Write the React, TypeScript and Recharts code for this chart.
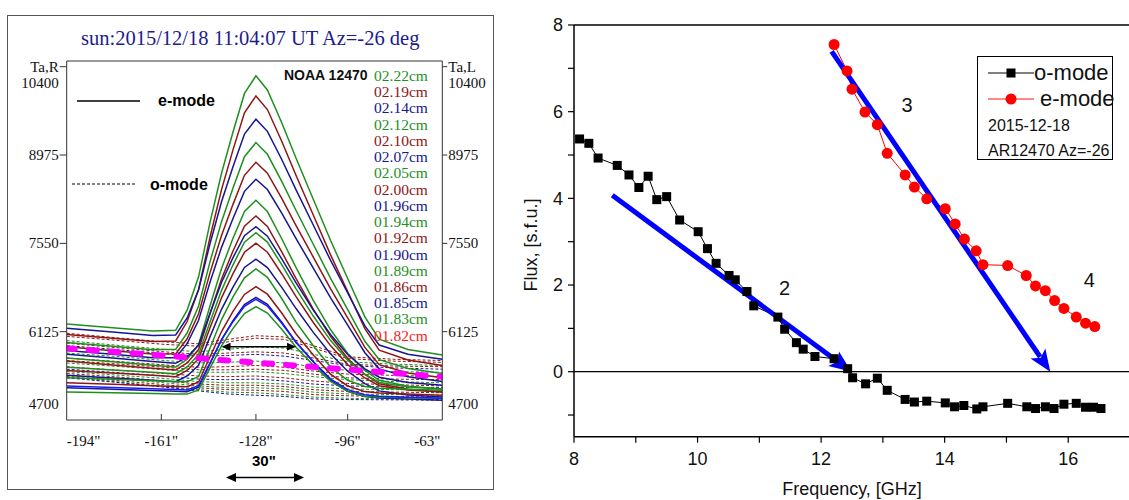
import React from "react";
import { LineChart, Line, XAxis, YAxis, ReferenceLine, ReferenceDot } from "recharts";

// ---------- left panel: scan profiles ----------
const scanX = [-194, -178, -164, -156, -152, -148, -144, -140, -136, -132, -128, -124, -119, -114, -108, -102, -96, -90, -85, -75, -63];

const e222 = [6250, 6189, 6135, 6148, 6473, 7010, 7888, 8681, 9347, 9969, 10252, 10024, 9495, 8923, 8262, 7601, 6982, 6363, 6004, 5839, 5750];
const e219 = [6080, 6019, 5965, 5976, 6289, 6806, 7652, 8417, 9058, 9657, 9929, 9709, 9198, 8646, 8008, 7369, 6772, 6175, 5828, 5667, 5580];
const e214 = [6180, 6119, 6065, 6071, 6346, 6802, 7548, 8222, 8787, 9314, 9553, 9357, 8903, 8413, 7846, 7279, 6749, 6218, 5909, 5762, 5680];
const e212 = [5950, 5889, 5835, 5840, 6103, 6539, 7255, 7900, 8442, 8948, 9176, 8987, 8551, 8080, 7535, 6990, 6480, 5970, 5673, 5531, 5450];
const e210 = [5880, 5819, 5765, 5767, 6011, 6415, 7078, 7677, 8179, 8648, 8859, 8682, 8276, 7837, 7329, 6821, 6346, 5871, 5593, 5458, 5380];
const e207 = [5820, 5759, 5705, 5705, 5932, 6308, 6926, 7485, 7952, 8389, 8585, 8419, 8038, 7627, 7151, 6676, 6230, 5785, 5525, 5396, 5320];
const e205 = [5700, 5639, 5585, 5555, 5680, 5916, 6544, 7145, 7633, 8065, 8246, 8063, 7624, 7158, 6631, 6160, 5774, 5499, 5340, 5246, 5200];
const e200 = [5650, 5589, 5535, 5505, 5620, 5837, 6419, 6975, 7427, 7826, 7993, 7822, 7414, 6980, 6490, 6052, 5691, 5435, 5286, 5196, 5150];
const e196 = [5760, 5699, 5645, 5615, 5716, 5908, 6424, 6918, 7319, 7673, 7820, 7666, 7300, 6912, 6472, 6079, 5756, 5525, 5390, 5306, 5260];
const e194 = [5550, 5507, 5470, 5448, 5555, 5756, 6285, 6792, 7204, 7569, 7723, 7571, 7206, 6816, 6377, 5985, 5664, 5436, 5306, 5232, 5200];
const e192 = [5500, 5457, 5420, 5398, 5499, 5689, 6190, 6671, 7061, 7406, 7552, 7407, 7060, 6690, 6273, 5900, 5594, 5378, 5254, 5182, 5150];
const e190 = [5420, 5377, 5340, 5318, 5411, 5584, 6045, 6486, 6844, 7161, 7294, 7160, 6840, 6498, 6113, 5769, 5486, 5286, 5170, 5102, 5070];
const e189 = [5380, 5356, 5334, 5322, 5316, 5403, 5861, 6320, 6686, 6994, 7137, 7001, 6660, 6280, 5899, 5556, 5341, 5240, 5214, 5198, 5180];
const e186 = [5300, 5276, 5254, 5242, 5236, 5313, 5720, 6127, 6452, 6726, 6852, 6730, 6426, 6087, 5748, 5441, 5249, 5158, 5134, 5118, 5100];
const e185 = [5220, 5196, 5174, 5162, 5156, 5228, 5612, 5997, 6303, 6561, 6680, 6565, 6277, 5957, 5635, 5345, 5164, 5077, 5054, 5038, 5020];
const e183 = [5150, 5138, 5127, 5121, 5118, 5186, 5541, 5895, 6178, 6417, 6529, 6425, 6165, 5875, 5584, 5323, 5161, 5084, 5067, 5059, 5050];
const e182 = [5250, 5226, 5204, 5192, 5186, 5255, 5624, 5992, 6286, 6534, 6648, 6537, 6260, 5952, 5644, 5365, 5190, 5106, 5084, 5068, 5050];

const oX = [-194, -175, -160, -148, -138, -128, -118, -108, -96, -80, -63];
const o00 = [6100, 6020, 5960, 5930, 6000, 6060, 6040, 5900, 5720, 5680, 5660];
const o01 = [6050, 5980, 5920, 5890, 5960, 6020, 6000, 5860, 5690, 5650, 5630];
const o02 = [5980, 5900, 5840, 5800, 5840, 5880, 5860, 5760, 5640, 5600, 5580];
const o03 = [5940, 5860, 5800, 5760, 5780, 5800, 5780, 5700, 5600, 5570, 5560];
const o04 = [5900, 5830, 5770, 5730, 5740, 5760, 5730, 5660, 5580, 5540, 5520];
const o05 = [5780, 5720, 5660, 5620, 5630, 5650, 5620, 5560, 5500, 5480, 5470];
const o06 = [5700, 5640, 5590, 5550, 5560, 5580, 5550, 5490, 5440, 5420, 5400];
const o07 = [5660, 5600, 5550, 5510, 5510, 5520, 5500, 5440, 5380, 5360, 5350];
const o08 = [5620, 5560, 5510, 5470, 5470, 5480, 5450, 5400, 5350, 5320, 5300];
const o09 = [5560, 5500, 5450, 5410, 5400, 5410, 5380, 5330, 5290, 5270, 5250];
const o10 = [5520, 5460, 5410, 5360, 5350, 5360, 5330, 5280, 5250, 5230, 5220];
const o11 = [5480, 5420, 5370, 5320, 5300, 5300, 5280, 5230, 5200, 5190, 5180];
const o12 = [5450, 5390, 5330, 5280, 5260, 5260, 5240, 5190, 5160, 5150, 5140];
const o13 = [5420, 5360, 5300, 5250, 5220, 5220, 5200, 5150, 5120, 5110, 5100];
const o14 = [5400, 5330, 5270, 5220, 5190, 5180, 5160, 5110, 5090, 5080, 5070];
const o15 = [5390, 5310, 5240, 5190, 5150, 5140, 5110, 5070, 5050, 5040, 5030];
const o16 = [5380, 5300, 5230, 5170, 5120, 5100, 5080, 5040, 5030, 5025, 5020];

const magentaX = [-194, -63];
const magentaY = [5857, 5399];
const beamX = [-140, -114];
const beamY = 5883;

const scanTicks = [-194, -161, -128, -96, -63];
const taTicks = [4700, 6125, 7550, 8975, 10400];

const GREEN = "#1f8f1f";
const DRED = "#8f1616";
const NAVY = "#16168f";

const eModes = [
  { label: "02.22cm", color: GREEN, values: e222 },
  { label: "02.19cm", color: DRED, values: e219 },
  { label: "02.14cm", color: NAVY, values: e214 },
  { label: "02.12cm", color: GREEN, values: e212 },
  { label: "02.10cm", color: DRED, values: e210 },
  { label: "02.07cm", color: NAVY, values: e207 },
  { label: "02.05cm", color: GREEN, values: e205 },
  { label: "02.00cm", color: DRED, values: e200 },
  { label: "01.96cm", color: NAVY, values: e196 },
  { label: "01.94cm", color: GREEN, values: e194 },
  { label: "01.92cm", color: DRED, values: e192 },
  { label: "01.90cm", color: NAVY, values: e190 },
  { label: "01.89cm", color: GREEN, values: e189 },
  { label: "01.86cm", color: DRED, values: e186 },
  { label: "01.85cm", color: NAVY, values: e185 },
  { label: "01.83cm", color: GREEN, values: e183 },
  { label: "01.82cm", color: "#ff1a1a", values: e182, line: "#1a1aff" },
];

const oModes = [
  { color: DRED, values: o00 }, { color: DRED, values: o01 }, { color: GREEN, values: o02 },
  { color: DRED, values: o03 }, { color: NAVY, values: o04 }, { color: GREEN, values: o05 },
  { color: DRED, values: o06 }, { color: DRED, values: o07 }, { color: GREEN, values: o08 },
  { color: DRED, values: o09 }, { color: NAVY, values: o10 }, { color: GREEN, values: o11 },
  { color: DRED, values: o12 }, { color: GREEN, values: o13 }, { color: DRED, values: o14 },
  { color: GREEN, values: o15 }, { color: NAVY, values: o16 },
];

// ---------- right panel: flux spectra ----------
const freqO = [8.09, 8.24, 8.39, 8.7, 8.89, 9.05, 9.2, 9.34, 9.5, 9.71, 10.01, 10.16, 10.3, 10.51, 10.61, 10.8, 10.91, 11.3, 11.41, 11.6, 11.71, 11.9, 12.21, 12.43, 12.51, 12.72, 12.91, 13.07, 13.36, 13.51, 13.71, 14.01, 14.16, 14.31, 14.52, 14.62, 15.02, 15.33, 15.47, 15.63, 15.77, 15.93, 16.13, 16.28, 16.41, 16.53];
const fluxO = [5.37, 5.27, 4.93, 4.76, 4.54, 4.25, 4.51, 3.97, 4.04, 3.5, 3.23, 2.84, 2.5, 2.22, 2.12, 1.85, 1.52, 1.26, 0.98, 0.67, 0.52, 0.35, 0.3, 0.07, -0.14, -0.28, -0.15, -0.43, -0.64, -0.7, -0.68, -0.72, -0.81, -0.78, -0.86, -0.81, -0.73, -0.81, -0.85, -0.81, -0.85, -0.75, -0.73, -0.82, -0.82, -0.85];
const freqE = [12.21, 12.42, 12.5, 12.71, 12.91, 13.07, 13.36, 13.51, 13.71, 14.01, 14.17, 14.32, 14.51, 14.62, 15.02, 15.32, 15.47, 15.63, 15.78, 15.93, 16.13, 16.28, 16.43];
const fluxE = [7.55, 6.94, 6.52, 5.99, 5.7, 5.04, 4.54, 4.26, 3.99, 3.76, 3.41, 3.06, 2.79, 2.47, 2.45, 2.22, 1.98, 1.87, 1.64, 1.46, 1.26, 1.12, 1.04];

const arrow2 = [{ x: 8.62, y: 4.07 }, { x: 12.49, y: 0 }];
const arrow3 = [{ x: 12.17, y: 7.39 }, { x: 15.71, y: 0 }];
const notes = [
  { text: "2", x: 11.41, y: 1.92 },
  { text: "3", x: 13.39, y: 6.16 },
  { text: "4", x: 16.34, y: 2.12 },
];
const freqTicks = [8, 9, 10, 11, 12, 13, 14, 15, 16, 17];
const fluxTicks = [-1, 0, 1, 2, 3, 4, 5, 6, 7, 8];

const pts = (xs: number[], ys: number[]) => xs.map((x, i) => ({ x, y: ys[i] }));

const SERIF = "'Liberation Serif', 'Times New Roman', serif";
const SANS = "'Liberation Sans', Arial, sans-serif";

const LeftTaTick = (props: any) => {
  const { x, y, payload } = props;
  const v = payload.value;
  const ty = v === 10400 ? y + 16 : v === 4700 ? y - 16 : y;
  return (
    <g>
      {v !== 4700 && <line x1={x - 7} x2={x} y1={y} y2={y} stroke="#333" />}
      {v === 10400 && (
        <text x={x - 8} y={y} dy={5} textAnchor="end" fontFamily={SERIF} fontSize={15} fill="#111">Ta,R</text>
      )}
      <text x={x - 8} y={ty} dy={5} textAnchor="end" fontFamily={SERIF} fontSize={15} fill="#111">{v}</text>
    </g>
  );
};

const RightTaTick = (props: any) => {
  const { x, y, payload } = props;
  const v = payload.value;
  const ty = v === 10400 ? y + 16 : v === 4700 ? y - 16 : y;
  return (
    <g>
      {v !== 4700 && <line x1={x} x2={x + 5} y1={y} y2={y} stroke="#333" />}
      {v === 10400 && (
        <text x={x + 6} y={y} dy={5} textAnchor="start" fontFamily={SERIF} fontSize={15} fill="#111">Ta,L</text>
      )}
      <text x={x + 6} y={ty} dy={5} textAnchor="start" fontFamily={SERIF} fontSize={15} fill="#111">{v}</text>
    </g>
  );
};

const ScanTick = (props: any) => {
  const { x, y, payload, index } = props;
  const anchor = index === 0 ? "start" : index === scanTicks.length - 1 ? "end" : "middle";
  const inner = index > 0 && index < scanTicks.length - 1;
  return (
    <g>
      {inner && <line x1={x} x2={x} y1={y} y2={y - 6} stroke="#333" />}
      <text x={index === scanTicks.length - 1 ? x - 2 : x} y={y + 26} textAnchor={anchor} fontFamily={SERIF} fontSize={15} fill="#111">
        {`${payload.value}"`}
      </text>
    </g>
  );
};

const DoubleArrow = (props: any) => {
  const { x1, y1, x2 } = props;
  return (
    <g>
      <line x1={x1 + 6} x2={x2 - 6} y1={y1} y2={y1} stroke="#000" strokeWidth={1.5} />
      <polygon points={`${x1},${y1} ${x1 + 9},${y1 - 4} ${x1 + 9},${y1 + 4}`} fill="#000" />
      <polygon points={`${x2},${y1} ${x2 - 9},${y1 - 4} ${x2 - 9},${y1 + 4}`} fill="#000" />
    </g>
  );
};

const BlueArrow = (props: any) => {
  const { x1, y1, x2, y2 } = props;
  const a = Math.atan2(y2 - y1, x2 - x1);
  const c = Math.cos(a);
  const s = Math.sin(a);
  const len = 22;
  const half = 9;
  const bx = x2 - len * c;
  const by = y2 - len * s;
  return (
    <g>
      <line x1={x1} y1={y1} x2={bx + 4 * c} y2={by + 4 * s} stroke="#0000ff" strokeWidth={5} />
      <polygon
        points={`${x2},${y2} ${bx - half * s},${by + half * c} ${bx + 5 * c},${by + 5 * s} ${bx + half * s},${by - half * c}`}
        fill="#0000ff"
      />
    </g>
  );
};

const NoteText = (text: string) => (props: any) => (
  <text x={props.cx} y={props.cy} dy={7} textAnchor="middle" fontFamily={SANS} fontSize={20} fill="#111">{text}</text>
);

const abs = (left: number, top: number, extra: React.CSSProperties = {}): React.CSSProperties => ({
  position: "absolute",
  left,
  top,
  whiteSpace: "nowrap",
  lineHeight: 1,
  ...extra,
});

export default function App() {
  return (
    <div style={{ position: "fixed", left: 0, top: 0, width: 1129, height: 500, overflow: "hidden", background: "#fff" }}>
      {/* left panel frame */}
      <div style={{ position: "absolute", left: 7, top: 15, width: 487, height: 475, border: "1.5px solid #555", boxSizing: "border-box" }} />

      <div style={{ position: "absolute", left: 0, top: 0 }}>
        <LineChart width={500} height={500} margin={{ top: 61, right: 0, bottom: 0, left: 0 }}>
          <XAxis
            type="number"
            dataKey="x"
            domain={[-194, -63]}
            ticks={scanTicks}
            height={80}
            tickSize={0}
            tickMargin={0}
            tickLine={false}
            tick={<ScanTick />}
            axisLine={{ stroke: "#333" }}
            allowDataOverflow
          />
          <YAxis
            yAxisId="L"
            type="number"
            domain={[4700, 10492]}
            ticks={taTicks}
            width={66.7}
            tickSize={0}
            tickMargin={0}
            tickLine={false}
            tick={<LeftTaTick />}
            axisLine={{ stroke: "#333" }}
            allowDataOverflow
          />
          <YAxis
            yAxisId="R"
            orientation="right"
            type="number"
            domain={[4700, 10492]}
            ticks={taTicks}
            width={57.7}
            tickSize={0}
            tickMargin={0}
            tickLine={false}
            tick={<RightTaTick />}
            axisLine={{ stroke: "#333" }}
            allowDataOverflow
          />
          <ReferenceLine yAxisId="L" y={10492} stroke="#333" />

          {oModes.map((m, i) => (
            <Line
              key={`o-${i}`}
              yAxisId="L"
              data={pts(oX, m.values)}
              dataKey="y"
              stroke={m.color}
              strokeWidth={1}
              strokeDasharray="3 2"
              dot={false}
              activeDot={false}
              isAnimationActive={false}
            />
          ))}
          {eModes.map((m, i) => (
            <Line
              key={`e-${i}`}
              yAxisId="L"
              data={pts(scanX, m.values)}
              dataKey="y"
              stroke={m.line ?? m.color}
              strokeWidth={1.5}
              dot={false}
              activeDot={false}
              isAnimationActive={false}
            />
          ))}
          <Line
            yAxisId="L"
            data={pts(magentaX, magentaY)}
            dataKey="y"
            stroke="#ff00ff"
            strokeWidth={6}
            strokeDasharray="8 14"
            strokeLinecap="round"
            dot={false}
            activeDot={false}
            isAnimationActive={false}
          />
          <ReferenceLine
            yAxisId="L"
            segment={[{ x: beamX[0], y: beamY }, { x: beamX[1], y: beamY }]}
            shape={<DoubleArrow />}
          />
        </LineChart>
      </div>

      {/* left panel texts */}
      <div style={abs(81, 28, { fontFamily: SERIF, fontSize: 20.5, color: "#1c1c8c" })}>
        sun:2015/12/18 11:04:07 UT Az=-26 deg
      </div>
      <div style={abs(284, 68, { fontFamily: SANS, fontSize: 14, fontWeight: 700, color: "#111" })}>NOAA 12470</div>
      {eModes.map((m, i) => (
        <div key={m.label} style={abs(374, 68 + i * 16.23, { fontFamily: SERIF, fontSize: 15.5, color: m.color })}>
          {m.label}
        </div>
      ))}
      <svg style={{ position: "absolute", left: 0, top: 0 }} width={500} height={500}>
        <line x1={77} x2={140} y1={101} y2={101} stroke="#000" strokeWidth={1.5} />
        <line x1={72} x2={136} y1={184} y2={184} stroke="#000" strokeWidth={1.2} strokeDasharray="3 2" />
        <line x1={232} x2={298} y1={477.5} y2={477.5} stroke="#000" strokeWidth={1.5} />
        <polygon points="226,477.5 236,473 236,482" fill="#000" />
        <polygon points="304,477.5 294,473 294,482" fill="#000" />
      </svg>
      <div style={abs(158, 93, { fontFamily: SANS, fontSize: 16, fontWeight: 700 })}>e-mode</div>
      <div style={abs(150, 177, { fontFamily: SANS, fontSize: 16, fontWeight: 700 })}>o-mode</div>
      <div style={abs(252, 453, { fontFamily: SANS, fontSize: 15, fontWeight: 700 })}>30"</div>

      {/* right panel */}
      <div style={{ position: "absolute", left: 500, top: 0 }}>
        <LineChart width={640} height={500} margin={{ top: 25, right: 10, bottom: 0, left: 0 }}>
          <XAxis
            type="number"
            dataKey="x"
            domain={[8, 17]}
            ticks={freqTicks}
            height={63.3}
            tickSize={6}
            tickMargin={10}
            tickFormatter={(v: number) => (v % 2 === 0 && v < 17 ? String(v) : "")}
            tick={{ fill: "#111", fontSize: 18, fontFamily: SANS }}
            axisLine={{ stroke: "#000", strokeWidth: 1.5 }}
            tickLine={{ stroke: "#000", strokeWidth: 1.2 }}
            allowDataOverflow
          />
          <YAxis
            type="number"
            domain={[-1.5, 8]}
            ticks={fluxTicks}
            width={74}
            tickSize={6}
            tickMargin={5}
            tickFormatter={(v: number) => (v % 2 === 0 ? String(v) : "")}
            tick={{ fill: "#111", fontSize: 18, fontFamily: SANS }}
            axisLine={{ stroke: "#000", strokeWidth: 1.5 }}
            tickLine={{ stroke: "#000", strokeWidth: 1.2 }}
            allowDataOverflow
          />
          <ReferenceLine y={8} stroke="#000" strokeWidth={1.5} />
          <ReferenceLine y={0} stroke="#000" strokeWidth={1.2} />
          <Line
            data={pts(freqO, fluxO)}
            dataKey="y"
            stroke="#000"
            strokeWidth={1}
            dot={(p: any) => <rect key={`sq-${p.index}`} x={p.cx - 4.5} y={p.cy - 4.5} width={9} height={9} fill="#000" />}
            activeDot={false}
            isAnimationActive={false}
          />
          <Line
            data={pts(freqE, fluxE)}
            dataKey="y"
            stroke="#ff0000"
            strokeWidth={1}
            dot={(p: any) => <circle key={`ci-${p.index}`} cx={p.cx} cy={p.cy} r={5.5} fill="#ff0000" />}
            activeDot={false}
            isAnimationActive={false}
          />
          <ReferenceLine segment={arrow2} shape={<BlueArrow />} />
          <ReferenceLine segment={arrow3} shape={<BlueArrow />} />
          {notes.map((n) => (
            <ReferenceDot key={n.text} x={n.x} y={n.y} r={0} shape={NoteText(n.text)} />
          ))}
        </LineChart>
      </div>

      <div style={abs(531, 245, { fontFamily: SANS, fontSize: 18, color: "#111", transform: "translate(-50%, -50%) rotate(-90deg)" })}>
        Flux, [s.f.u.]
      </div>
      <div style={abs(852, 480, { fontFamily: SANS, fontSize: 18, color: "#111", transform: "translateX(-50%)" })}>
        Frequency, [GHz]
      </div>

      {/* right legend */}
      <div style={{ position: "absolute", left: 977, top: 56, width: 136, height: 104, border: "1px solid #000", boxSizing: "border-box", background: "#fff" }} />
      <svg style={{ position: "absolute", left: 0, top: 0 }} width={1129} height={500}>
        <line x1={988} x2={1034} y1={73} y2={73} stroke="#000" strokeWidth={1} />
        <rect x={1006.5} y={68.5} width={9} height={9} fill="#000" />
        <line x1={988} x2={1034} y1={99} y2={99} stroke="#ff6060" strokeWidth={1.5} />
        <circle cx={1011} cy={99} r={5.5} fill="#ff0000" />
      </svg>
      <div style={abs(1034, 62, { fontFamily: SANS, fontSize: 22, color: "#111" })}>o-mode</div>
      <div style={abs(1040, 88, { fontFamily: SANS, fontSize: 22, color: "#111" })}>e-mode</div>
      <div style={abs(988, 118, { fontFamily: SANS, fontSize: 16, color: "#111" })}>2015-12-18</div>
      <div style={abs(988, 143, { fontFamily: SANS, fontSize: 16, color: "#111" })}>AR12470 Az=-26</div>
    </div>
  );
}
